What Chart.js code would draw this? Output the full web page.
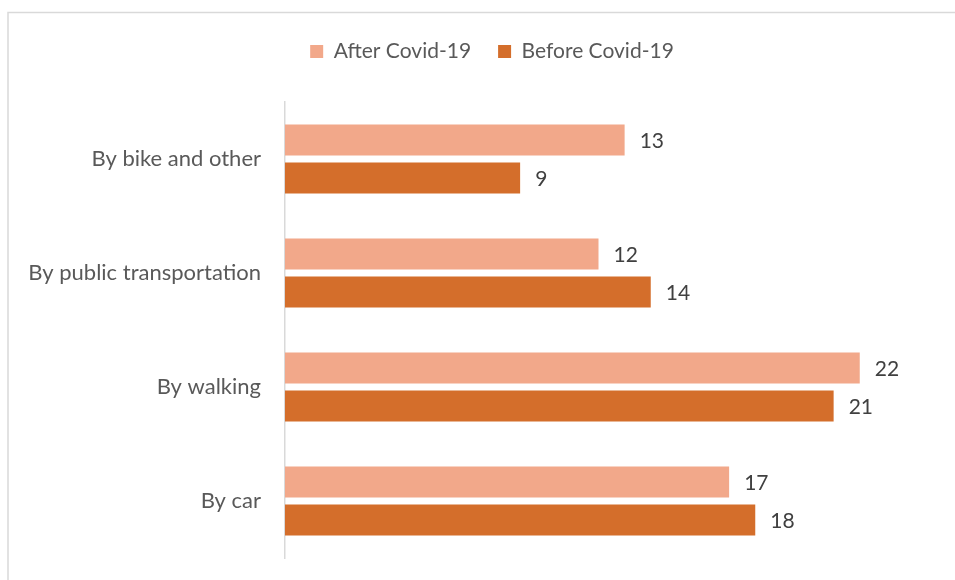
<!DOCTYPE html>
<html>
<head>
<meta charset="utf-8">
<script src="https://cdn.jsdelivr.net/npm/chart.js@4.4.0/dist/chart.umd.min.js"></script>
<style>
  html, body { margin: 0; padding: 0; background: #ffffff; }
  #wrap { position: relative; width: 955px; height: 580px; }
</style>
</head>
<body>
<div id="wrap"><canvas id="c" width="955" height="580"></canvas></div>
<script>
const categories = ["By bike and other", "By public transportation", "By walking", "By car"];
const afterCovid = [13, 12, 22, 17];
const beforeCovid = [9, 14, 21, 18];
const seriesNames = ["After Covid-19", "Before Covid-19"];

const FONT = "Lato, 'Open Sans', sans-serif";
const LAYOUT_TOP = 14;
const PLOT_TOP = 102;
const LEGEND_SHIFT = 32;

const frame = {
  id: 'frame',
  beforeDraw(chart) {
    const ctx = chart.ctx;
    ctx.save();
    ctx.strokeStyle = '#d9d9d9';
    ctx.lineWidth = 1.5;
    ctx.beginPath();
    ctx.moveTo(8, 580); ctx.lineTo(8, 12.5); ctx.lineTo(955, 12.5);
    ctx.stroke();
    ctx.restore();
  }
};

const legendTweak = {
  id: 'legendTweak',
  beforeInit(chart) {
    const fit = chart.legend.fit;
    chart.legend.fit = function () {
      fit.bind(chart.legend)();
      this.height = PLOT_TOP - LAYOUT_TOP;
    };
  },
  afterLayout(chart) {
    chart.legend.left += LEGEND_SHIFT;
    chart.legend.right += LEGEND_SHIFT;
  }
};

const valueLabels = {
  id: 'valueLabels',
  afterDatasetsDraw(chart) {
    const ctx = chart.ctx;
    ctx.save();
    ctx.font = "21px " + FONT;
    ctx.fillStyle = '#404040';
    ctx.textAlign = 'left';
    ctx.textBaseline = 'middle';
    chart.data.datasets.forEach((ds, i) => {
      chart.getDatasetMeta(i).data.forEach((bar, j) => {
        ctx.fillText(String(ds.data[j]), bar.x + 15, bar.y + 1);
      });
    });
    ctx.restore();
  }
};

new Chart(document.getElementById('c'), {
  type: 'bar',
  data: {
    labels: categories,
    datasets: [
      { label: seriesNames[0], data: afterCovid, backgroundColor: '#F2A88A', categoryPercentage: 0.667, barPercentage: 0.816 },
      { label: seriesNames[1], data: beforeCovid, backgroundColor: '#D46E2B', categoryPercentage: 0.667, barPercentage: 0.816 }
    ]
  },
  options: {
    indexAxis: 'y',
    responsive: false,
    animation: false,
    devicePixelRatio: 1,
    layout: { padding: { left: 8, right: 43, top: LAYOUT_TOP, bottom: 22 } },
    scales: {
      x: { display: false, min: 0, max: 24 },
      y: {
        grid: { display: false, drawTicks: false },
        border: { display: true, color: '#d9d9d9', width: 1.5 },
        ticks: { color: '#595959', font: { family: FONT, size: 22 }, padding: 24 },
        afterFit(scale) {
          scale.width = 277;
          scale.paddingTop = 0;
          scale.paddingBottom = 0;
        }
      }
    },
    plugins: {
      legend: {
        position: 'top',
        labels: {
          color: '#595959',
          font: { family: FONT, size: 21 },
          boxWidth: 13, boxHeight: 13,
          padding: 27
        }
      },
      tooltip: { enabled: false }
    }
  },
  plugins: [frame, legendTweak, valueLabels]
});
</script>
</body>
</html>
